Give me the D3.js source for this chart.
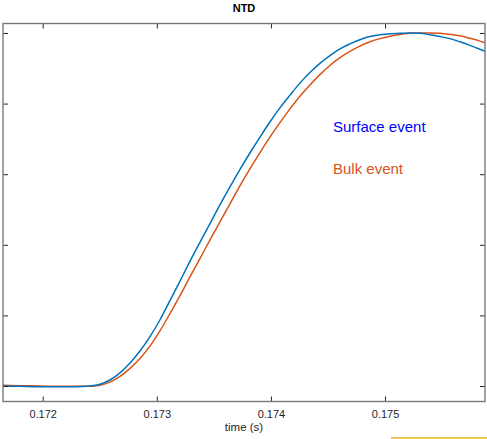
<!DOCTYPE html>
<html>
<head>
<meta charset="utf-8">
<script src="https://cdn.jsdelivr.net/npm/d3@7"></script>
<style>
  html, body { margin: 0; padding: 0; background: #fff; }
  svg { display: block; font-family: "Liberation Sans", Arial, Helvetica, sans-serif; }
</style>
</head>
<body>
<svg id="chart" width="487" height="439"></svg>
<script>
// Normalised NTD pulse shapes for the two event types (time in s, amplitude 0..1)
const time = [0.171652, 0.171801, 0.171976, 0.172151, 0.172283,
  0.172414, 0.172502, 0.172589, 0.172677, 0.172765, 0.172852, 0.172940, 0.173027,
  0.173115, 0.173203, 0.173290, 0.173378, 0.173466, 0.173553, 0.173641, 0.173728,
  0.173816, 0.173904, 0.173991, 0.174079, 0.174167, 0.174254, 0.174342, 0.174429,
  0.174517, 0.174605, 0.174692, 0.174780, 0.174868, 0.174955, 0.175043, 0.175130,
  0.175218, 0.175306, 0.175393, 0.175481, 0.175569, 0.175656, 0.175744, 0.175831, 0.175876];

const surfaceAmp = [0.000, -0.001, -0.002, -0.002, -0.002,
  0.000, 0.005, 0.017, 0.037, 0.065, 0.099, 0.140, 0.187,
  0.242, 0.297, 0.353, 0.407, 0.460, 0.513, 0.564, 0.613,
  0.660, 0.705, 0.748, 0.788, 0.824, 0.858, 0.888, 0.914,
  0.936, 0.955, 0.969, 0.981, 0.990, 0.995, 0.998, 0.999,
  1.000, 0.999, 0.995, 0.990, 0.984, 0.975, 0.965, 0.954, 0.948];

const bulkAmp = [0.002, 0.001, 0.000, -0.001, -0.001,
  -0.001, 0.002, 0.011, 0.027, 0.050, 0.078, 0.113, 0.156,
  0.205, 0.256, 0.309, 0.361, 0.414, 0.465, 0.516, 0.567,
  0.615, 0.661, 0.705, 0.746, 0.785, 0.821, 0.853, 0.882,
  0.908, 0.930, 0.948, 0.963, 0.975, 0.984, 0.991, 0.996,
  0.999, 1.000, 1.000, 0.999, 0.996, 0.992, 0.985, 0.977, 0.972];

const xTicks = [0.172, 0.173, 0.174, 0.175];
const yTicks = [0, 0.2, 0.4, 0.6, 0.8, 1.0];

const seriesNames = ["Surface event", "Bulk event"];
const seriesColors = ["#0072BD", "#D95319"];
const labelColors = ["#0000FF", "#D95319"];
// annotation anchor positions in data units
const labelTime = [0.174544, 0.174544];
const labelAmp = [0.7195, 0.6006];

const W = 487, H = 439;
const margin = { left: 3, right: 2, top: 23.5, bottom: 37.5 };
const svg = d3.select("#chart");

const x = d3.scaleLinear().domain([0.171652, 0.175876]).range([margin.left, W - margin.right]);
const y = d3.scaleLinear().domain([-0.0439, 1.0269]).range([H - margin.bottom, margin.top]);

const plot = svg.append("g");
plot.append("defs").append("clipPath").attr("id", "clip")
  .append("rect")
  .attr("x", margin.left).attr("y", margin.top)
  .attr("width", W - margin.left - margin.right)
  .attr("height", H - margin.top - margin.bottom);

const line = d3.line().x(d => x(d[0])).y(d => y(d[1])).curve(d3.curveMonotoneX);

const series = [
  d3.zip(time, surfaceAmp),
  d3.zip(time, bulkAmp)
];

// bulk first so the surface trace sits on top
[1, 0].forEach(i => {
  plot.append("path")
    .attr("clip-path", "url(#clip)")
    .attr("d", line(series[i]))
    .attr("fill", "none")
    .attr("stroke", seriesColors[i])
    .attr("stroke-width", 1.5)
    .attr("stroke-linejoin", "round");
});

// axes: ticks point inward, box on all four sides
const axisColor = "#262626";
const tickLen = 5;
const xb = d3.axisBottom(x).tickValues(xTicks).tickSize(-tickLen).tickPadding(9).tickFormat(d3.format(".3f"));
const xt = d3.axisTop(x).tickValues(xTicks).tickSize(-tickLen).tickFormat("");
const yl = d3.axisLeft(y).tickValues(yTicks).tickSize(-tickLen).tickFormat("");
const yr = d3.axisRight(y).tickValues(yTicks).tickSize(-tickLen).tickFormat("");

function styleAxis(g) {
  g.select(".domain").remove();
  g.selectAll(".tick line").attr("stroke", axisColor).attr("stroke-width", 1);
  g.selectAll("text").attr("fill", axisColor).attr("font-size", 11)
    .attr("font-family", "Liberation Sans, Arial, sans-serif");
}

svg.append("g").attr("transform", `translate(0,${H - margin.bottom})`).call(xb).call(styleAxis);
svg.append("g").attr("transform", `translate(0,${margin.top})`).call(xt).call(styleAxis);
svg.append("g").attr("transform", `translate(${margin.left},0)`).call(yl).call(styleAxis);
svg.append("g").attr("transform", `translate(${W - margin.right},0)`).call(yr).call(styleAxis);

svg.append("rect")
  .attr("x", margin.left).attr("y", margin.top)
  .attr("width", W - margin.left - margin.right)
  .attr("height", H - margin.top - margin.bottom)
  .attr("fill", "none").attr("stroke", "#7a7a7a").attr("stroke-width", 1.4);

// title and axis label
svg.append("text")
  .attr("x", (margin.left + W - margin.right) / 2).attr("y", 11.7)
  .attr("text-anchor", "middle").attr("font-weight", "bold").attr("font-size", 11)
  .attr("fill", "#000").text("NTD");

svg.append("text")
  .attr("x", (margin.left + W - margin.right) / 2).attr("y", 430.5)
  .attr("text-anchor", "middle").attr("font-size", 11.5)
  .attr("fill", axisColor).text("time (s)");

// in-plot series annotations
seriesNames.forEach((name, i) => {
  svg.append("text")
    .attr("x", x(labelTime[i])).attr("y", y(labelAmp[i]))
    .attr("font-size", 15).attr("fill", labelColors[i]).text(name);
});

// highlight rule along the lower edge
svg.append("line")
  .attr("x1", 391).attr("x2", 487).attr("y1", 438).attr("y2", 438)
  .attr("stroke", "#EDB120").attr("stroke-width", 1.5);
</script>
</body>
</html>
